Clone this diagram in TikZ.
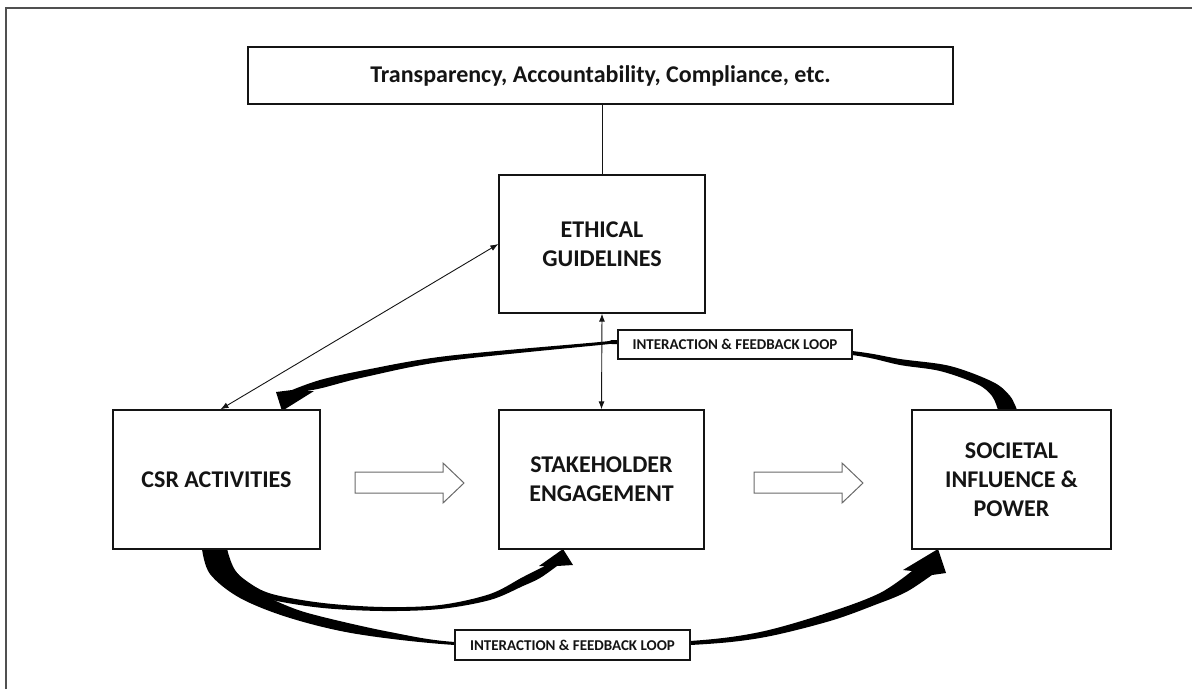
\documentclass[tikz,border=0pt]{standalone}
\usepackage{fontspec}
\setmainfont{Carlito}
\usetikzlibrary{arrows.meta}

\definecolor{ink}{HTML}{141414}
\definecolor{frame}{HTML}{505050}
\definecolor{hollow}{HTML}{6A6A6A}

\tikzset{
  box/.style={draw=ink, line width=1.3pt, fill=white, align=center, inner sep=0pt,
              font=\fontsize{24}{29}\selectfont\bfseries, text=ink},
  tag/.style={draw=ink, line width=1.2pt, fill=white, inner sep=0pt,
              font=\fontsize{15}{18}\selectfont\bfseries, text=ink},
  thin link/.style={draw=ink, line width=0.9pt, {Latex[length=8pt,width=6pt]}-{Latex[length=8pt,width=6pt]}},
  band/.style={fill=black},
  blockarrow/.style={draw=hollow, line width=1pt, fill=white, line join=miter}
}

\begin{document}
\begin{tikzpicture}[x=1pt,y=-1pt]
\useasboundingbox (0,0) rectangle (1192,689);

% partial page frame
\draw[frame, line width=2pt] (6,689) -- (6,7.5) -- (1192,7.5);

% curved feedback bands (drawn first so the boxes sit on top)
% upper band: societal influence back to CSR activities
\fill[band] plot[smooth, tension=0.55] coordinates {(1017,410) (1010,396) (993,382) (950,366) (900,359) (852,351) (735,340) (618,340) (600,342) (447,356) (365,370) (320,380) (292,390)}
  -- (276,392) -- (282,411) -- (314,391) -- (306,391)
  -- plot[smooth, tension=0.55] coordinates {(306,391) (322,388) (365,377) (447,361) (600,345) (618,344) (735,343) (852,355) (900,365) (940,371) (977,384) (992,396) (998,410)}
  -- cycle;

% lower band: CSR activities to stakeholder engagement
\fill[band] plot[smooth, tension=0.55] coordinates {(227,549) (232,567) (248,582) (272,594) (323,603) (383,607) (440,605) (490,594) (523,577) (545,566)}
  -- (539,566) -- (563,549) -- (573,565) -- (557,566)
  -- plot[smooth, tension=0.55] coordinates {(557,566) (540,578) (523,586) (490,600) (440,609) (383,611) (323,608) (272,600) (240,590) (215,572) (202,549)}
  -- cycle;

% lowest band: CSR activities to societal influence
\fill[band] plot[smooth, tension=0.55] coordinates {(227,549) (235,570) (255,590) (290,607) (323,617) (390,632) (455,642) (572,645) (690,641) (760,632) (830,612) (880,593) (912,571)}
  -- (903,570) -- (938,549) -- (946,573) -- (932,575)
  -- plot[smooth, tension=0.55] coordinates {(932,575) (913,588) (900,595) (880,603) (830,621) (760,638) (690,645) (572,648) (455,645) (357,634) (290,618) (240,598) (210,574) (202,549)}
  -- cycle;

% boxes
\node[box, minimum width=705pt, minimum height=57pt] (top) at (600.5,75.5) {Transparency, Accountability, Compliance, etc.};
\node[box, minimum width=206pt, minimum height=138pt] (eth) at (602,244) {ETHICAL\\GUIDELINES};
\node[box, minimum width=207pt, minimum height=139pt] (csr) at (216.5,479.5) {CSR ACTIVITIES};
\node[box, minimum width=205pt, minimum height=139pt] (stk) at (601.5,479.5) {STAKEHOLDER\\ENGAGEMENT};
\node[box, minimum width=199pt, minimum height=139pt] (soc) at (1011.5,479.5) {SOCIETAL\\INFLUENCE \&\\POWER};

% loop labels
\node[tag, minimum width=234pt, minimum height=29pt] (lab1) at (735,344.5) {INTERACTION \& FEEDBACK LOOP};
\node[tag, minimum width=235pt, minimum height=30pt] (lab2) at (572.5,645) {INTERACTION \& FEEDBACK LOOP};

% plain connectors
\draw[ink, line width=0.9pt] (top.south -| eth.north) -- (eth.north);
\draw[thin link] ([xshift=4pt]csr.north) -- (eth.west);
\draw[thin link] (eth.south) -- (stk.north);

% hollow flow arrows
\draw[blockarrow] (355,472) -- (443,472) -- (443,463) -- (464,483) -- (443,503) -- (443,493) -- (355,493) -- cycle;
\draw[blockarrow] (754,472) -- (842,472) -- (842,463) -- (863,483) -- (842,503) -- (842,493) -- (754,493) -- cycle;
\end{tikzpicture}
\end{document}
